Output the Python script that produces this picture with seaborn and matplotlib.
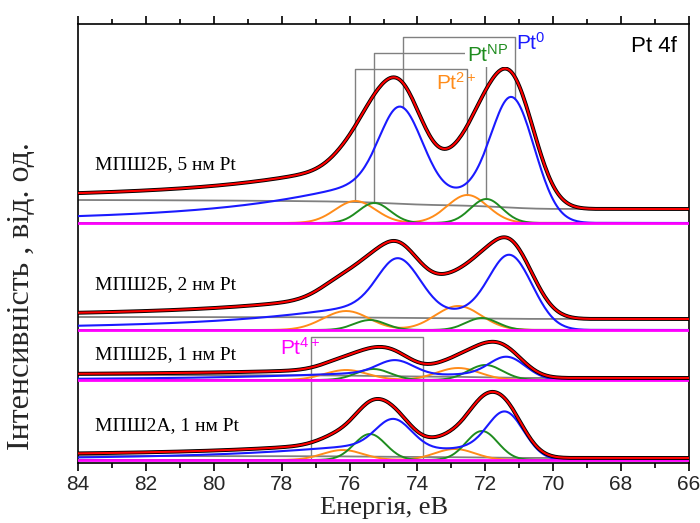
import numpy as np
import pandas as pd
import matplotlib
matplotlib.use("Agg")
import matplotlib.pyplot as plt
import seaborn as sns

# ---------------- data ----------------
panel_labels = ["МПШ2Б, 5 нм Pt", "МПШ2Б, 2 нм Pt", "МПШ2Б, 1 нм Pt", "МПШ2А, 1 нм Pt"]
panel_offset = [240, 133, 83, 3]

pt0_e72 = [71.12, 71.18, 71.30, 71.35]
pt0_h72 = [124, 74, 23, 48]
pt0_h52 = [95, 59, 16, 33]
pt0_fwhm = [1.5, 1.5, 1.25, 1.25]

ptnp_e72 = [71.97, 72.10, 72.00, 72.10]
ptnp_h72 = [24, 12, 15, 29]
ptnp_h52 = [20, 10, 11, 26]
ptnp_fwhm = [1.1, 1.1, 1.2, 1.1]

pt2_e72 = [72.53, 72.80, 72.80, 72.90]
pt2_h72 = [28, 24, 12, 11]
pt2_h52 = [22, 19, 10, 10]
pt2_fwhm = [1.4, 1.6, 1.5, 1.4]

pt4_e72 = 73.85
pt4_h = [0, 0, 0, 0]

bg_low = [14, 11, 2, 2]     # background level at 66 eV
bg_high = [23, 13, 5, 4]    # background level at 84 eV

so_split = 3.3
tail_frac = 0.32
tail_width = 4.0

x_ticks = [84, 82, 80, 78, 76, 74, 72, 70, 68, 66]

# ---------------- styling ----------------
sns.set_theme(style="white")
plt.rcParams["font.family"] = ["Liberation Sans", "DejaVu Sans"]
plt.rcParams["mathtext.fontset"] = "custom"
plt.rcParams["mathtext.rm"] = "Liberation Sans"
plt.rcParams["mathtext.it"] = "Liberation Sans:italic"

C_BLUE = "#1a1aff"
C_GREEN = "#1f8c1f"
C_ORANGE = "#ff8c1a"
C_MAG = "#ff00ff"
C_GRAY = "#808080"
C_RED = "#ff0000"

E = np.arange(66.0, 84.0001, 0.05)


def gauss(x, c, f):
    return np.exp(-4 * np.log(2) * ((x - c) / f) ** 2)


def metal(x, c, f):
    lor = 1.0 / (1.0 + ((x - c) / tail_width) ** 2)
    step = 1.0 / (1.0 + np.exp(-(x - c) / 0.25))
    return (gauss(x, c, f) + tail_frac * lor * step) / (1 + tail_frac / 2)


fig = plt.figure(figsize=(7.0, 5.23), dpi=100)
ax = fig.add_axes([78 / 700, 60 / 523, 611 / 700, 439 / 523])


def line(x, y, color, lw, z):
    sns.lineplot(x=x, y=y, color=color, lw=lw, ax=ax, sort=False,
                 estimator=None, zorder=z, legend=False)


peaks_top = {}
for i in range(4):
    off = panel_offset[i]
    blue = (pt0_h72[i] * metal(E, pt0_e72[i], pt0_fwhm[i])
            + pt0_h52[i] * metal(E, pt0_e72[i] + so_split, pt0_fwhm[i]))
    green = (ptnp_h72[i] * gauss(E, ptnp_e72[i], ptnp_fwhm[i])
             + ptnp_h52[i] * gauss(E, ptnp_e72[i] + so_split, ptnp_fwhm[i]))
    orange = (pt2_h72[i] * gauss(E, pt2_e72[i], pt2_fwhm[i])
              + pt2_h52[i] * gauss(E, pt2_e72[i] + so_split, pt2_fwhm[i]))
    mag = pt4_h[i] * (gauss(E, pt4_e72, 1.4) + gauss(E, pt4_e72 + so_split, 1.4))
    comp = blue + green + orange + mag
    cum = np.cumsum(comp)
    bg = bg_low[i] + (bg_high[i] - bg_low[i]) * cum / cum[-1]
    env = bg + comp

    line(E, off + bg, C_GRAY, 1.3, 2)
    line(E, off + orange, C_ORANGE, 1.4, 3)
    line(E, off + green, C_GREEN, 1.4, 3)
    line(E, off + blue, C_BLUE, 1.5, 4)
    line(E, off + mag, C_MAG, 2.0, 5)
    line(E, off + env, "black", 2.8, 6)
    line(E, off + env, C_RED, 1.5, 7)

    if i == 0:
        for name, arr_e, arr in (("pt0", pt0_e72, blue), ("np", ptnp_e72, green),
                                 ("pt2", pt2_e72, orange)):
            e1 = arr_e[0]
            e2 = arr_e[0] + so_split
            peaks_top[name] = (e2, e1, off + np.interp(e2, E, arr), off + np.interp(e1, E, arr))

    ax.text(83.5, off + [58, 45, 25, 34][i], panel_labels[i], family="Liberation Serif",
            fontsize=14, color="black", ha="left", va="center", zorder=9)

# brackets
for name, ytop in (("pt0", 426), ("np", 410), ("pt2", 394)):
    e2, e1, y2, y1 = peaks_top[name]
    ax.plot([e2, e2, e1, e1], [y2, ytop, ytop, y1], color=C_GRAY, lw=1.0, zorder=1)
ax.plot([pt4_e72 + so_split, pt4_e72 + so_split, pt4_e72, pt4_e72], [5, 126, 126, 5],
        color=C_GRAY, lw=1.0, zorder=1)

ax.text(71.09, 420, r"Pt$^{0}$", color=C_BLUE, fontsize=15, ha="left", va="center", zorder=10)
ax.text(71.94, 408, r"Pt$^{\mathrm{NP}}$", color=C_GREEN, fontsize=15, ha="center", va="center",
        zorder=10, bbox=dict(facecolor="white", edgecolor="none", pad=1.0))
ax.text(73.44, 380, r"Pt$^{2+}$", color=C_ORANGE, fontsize=15, ha="left", va="center", zorder=10)
ax.text(78.06, 115, r"Pt$^{4+}$", color=C_MAG, fontsize=15, ha="left", va="center", zorder=10)
ax.text(67.71, 416, "Pt 4f", color="black", fontsize=16, ha="left", va="center", zorder=10)

ax.set_xlim(84, 66)
ax.set_ylim(0, 439)
ax.set_xticks(x_ticks)
ax.set_xticks(np.arange(66, 84.1, 1), minor=True)
ax.set_yticks([])
for s in ax.spines.values():
    s.set_color("black")
    s.set_linewidth(1.2)
ax.tick_params(axis="x", which="both", direction="out", top=True, bottom=True,
               labeltop=False, color="black", width=1.2)
ax.tick_params(axis="x", which="major", length=6, labelsize=15, pad=3)
ax.tick_params(axis="x", which="minor", length=3.5)
ax.set_xlabel("Енергія, еВ", family="Liberation Serif", fontsize=19, labelpad=2)
ax.set_ylabel("Інтенсивність , від. од.", family="Liberation Serif", fontsize=23)
ax.yaxis.set_label_coords(-0.068, 0.38)

fig.savefig("out.png", dpi=100)
